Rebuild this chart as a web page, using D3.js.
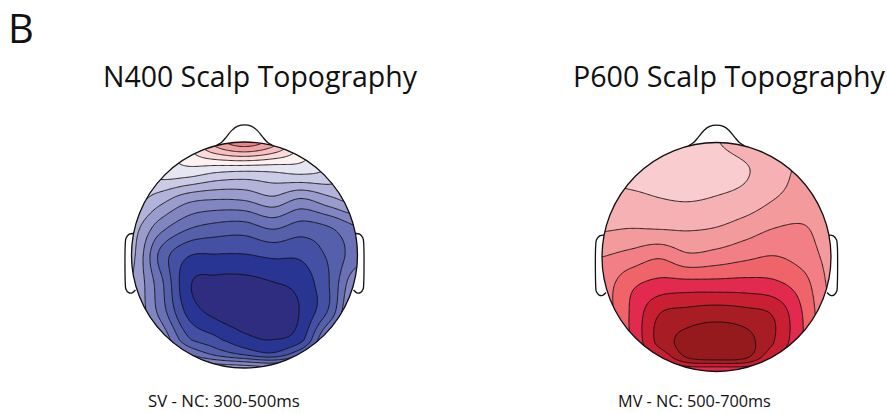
<!DOCTYPE html>
<html><head><meta charset="utf-8">
<script src="https://cdn.jsdelivr.net/npm/d3@7"></script>
<style>
body{margin:0;background:#fff}
svg{display:block}
text{font-family:"Open Sans","Noto Sans",sans-serif;fill:#111}
</style>
</head><body>
<svg id="chart" width="887" height="413"></svg>
<script>
// ---------------- data ----------------
const panelLabel = "B";
const titles = ["N400 Scalp Topography", "P600 Scalp Topography"];
const subtitles = ["SV - NC: 300-500ms", "MV - NC: 500-700ms"];

// normalized scalp grid positions (head radius = 1): columns left->right, rows front->back
const gridCols = [-1, -0.75, -0.5, -0.25, 0, 0.25, 0.5, 0.75, 1];
const gridRows = [-1, -0.75, -0.5, -0.25, 0, 0.25, 0.5, 0.75, 0.875, 1];

// N400 (SV - NC) amplitude field
const n400Values = [
  [-3.0, -1.5,  1.0,  3.5,  4.6,  3.5,  1.0, -1.5, -3.0],
  [-2.0, -0.6, -0.3, -0.7, -0.85,-0.8, -0.6, -1.2, -2.8],
  [-1.5, -2.5, -3.6, -3.9, -3.8, -3.2, -4.0, -3.2, -2.5],
  [-2.5, -4.5, -5.8, -6.3, -6.4, -5.8, -6.4, -6.0, -5.0],
  [-2.7, -6.2, -7.9, -8.05,-8.05,-7.8, -7.8, -6.8, -5.5],
  [-3.0, -5.6, -8.8, -9.25,-9.3, -9.05,-8.6, -7.0, -4.0],
  [-3.0, -5.3, -8.3, -9.3, -9.7, -9.8, -8.9, -6.8, -3.0],
  [-3.0, -4.0, -6.8, -7.8, -8.7, -9.0, -8.3, -4.5, -3.0],
  [-3.0, -3.5, -5.0, -6.3, -7.2, -7.8, -6.2, -3.8, -3.0],
  [-2.0, -2.5, -3.0, -3.3, -3.5, -3.8, -3.5, -3.0, -2.0]
];
const n400Thresholds = [-9, -8, -7, -6, -5, -4, -3, -2, -1, 0, 1, 2, 3, 4];
const n400Colors = ["#2e2d7f", "#283593", "#4450a3", "#5560ab", "#6a71b6", "#8186c1",
  "#9a9ccc", "#b3b3d9", "#cbcbe5", "#e6e5f2", "#fdf1f1", "#fadada", "#f6bfc0", "#f2a2a3", "#ee8385"];

// P600 (MV - NC) amplitude field
const p600Values = [
  [0.3, 0.3, 0.4,  0.6,  0.95, 1.4, 1.8,  2.0, 2.2],
  [0.6, 0.5, 0.5,  0.5,  0.6,  0.9, 1.6,  2.2, 2.5],
  [1.5, 1.3, 1.05, 0.95, 1.1,  1.4, 2.0,  2.4, 2.5],
  [1.9, 2.0, 1.95, 1.9,  2.05, 2.5, 3.0,  3.1, 2.5],
  [3.0, 3.4, 3.9,  3.25, 3.45, 3.8, 4.05, 3.6, 2.7],
  [3.5, 4.8, 5.4,  5.5,  5.5,  5.5, 5.3,  4.5, 2.8],
  [3.5, 5.1, 7.0,  7.4,  7.6,  7.4, 6.9,  5.0, 3.0],
  [3.5, 5.0, 7.3,  8.4,  8.7,  8.4, 7.0,  5.0, 3.0],
  [3.0, 4.5, 6.0,  8.1,  8.5,  8.2, 6.0,  4.5, 3.0],
  [3.0, 4.0, 4.5,  5.0,  5.0,  5.0, 4.5,  4.0, 3.0]
];
const p600Thresholds = [1, 2, 3, 4, 5, 6, 7, 8];
const p600Colors = ["#f9cdd0", "#f6b1b5", "#f39a9c", "#f17f85", "#ef6468",
  "#e2294e", "#c81f32", "#a81d23", "#951a1e"];

// head outline shapes (normalized head units)
const noseShape = [[-0.245,-0.972],[-0.2,-1.0],[-0.16,-1.045],[-0.11,-1.105],[-0.06,-1.14],
  [0,-1.152],[0.06,-1.14],[0.11,-1.105],[0.16,-1.045],[0.2,-1.0],[0.245,-0.972]];
const earShape = [[-0.975,-0.19],[-1.02,-0.185],[-1.048,-0.15],[-1.055,-0.1],[-1.055,0.25],
  [-1.05,0.3],[-1.025,0.333],[-0.995,0.335],[-0.965,0.31]];

// ---------------- drawing ----------------
const svg = d3.select("#chart");

const panels = [
  {title: titles[0], sub: subtitles[0], values: n400Values, thr: n400Thresholds, colors: n400Colors,
   cx: 244.5, cy: 255, r: 113, titleX: 103, titleW: 314, subX: 148, subW: 152},
  {title: titles[1], sub: subtitles[1], values: p600Values, thr: p600Thresholds, colors: p600Colors,
   cx: 716.5, cy: 257, r: 114.5, titleX: 573, titleW: 312, subX: 618, subW: 153}
];

function cr(p0, p1, p2, p3, t) {
  const t2 = t * t, t3 = t2 * t;
  return 0.5 * ((2 * p1) + (-p0 + p2) * t + (2 * p0 - 5 * p1 + 4 * p2 - p3) * t2 + (-p0 + 3 * p1 - 3 * p2 + p3) * t3);
}
function sampler(grid) {
  const nc = gridCols.length, nr = gridRows.length;
  const ix = d3.scaleLinear().domain(gridCols).range(d3.range(nc)).clamp(true);
  const iy = d3.scaleLinear().domain(gridRows).range(d3.range(nr)).clamp(true);
  const g = (i, j) => grid[Math.max(0, Math.min(nr - 1, j))][Math.max(0, Math.min(nc - 1, i))];
  return (u, v) => {
    const fx = ix(u), fy = iy(v);
    const i = Math.min(Math.floor(fx), nc - 2), j = Math.min(Math.floor(fy), nr - 2);
    const tx = fx - i, ty = fy - j;
    const rows = [];
    for (let k = -1; k <= 2; k++) {
      rows.push(cr(g(i - 1, j + k), g(i, j + k), g(i + 1, j + k), g(i + 2, j + k), tx));
    }
    return cr(rows[0], rows[1], rows[2], rows[3], ty);
  };
}

function fitText(sel, width) {
  const fs = parseFloat(sel.attr("font-size"));
  const w = sel.node().getComputedTextLength();
  sel.attr("font-size", (fs * width / w).toFixed(2));
}

svg.append("text").attr("x", 8).attr("y", 43).attr("font-size", 40).text(panelLabel);

const N = 211, EXT = 1.05;
panels.forEach((p, pi) => {
  const g = svg.append("g");
  const f = sampler(p.values);
  const uScale = d3.scaleLinear().domain([0, N - 1]).range([-EXT, EXT]);
  const vals = new Array(N * N);
  for (let j = 0; j < N; j++) for (let i = 0; i < N; i++) vals[j * N + i] = f(uScale(i), uScale(j));

  const sx = d3.scaleLinear().domain([0.5, N - 0.5]).range([p.cx - EXT * p.r, p.cx + EXT * p.r]);
  const sy = d3.scaleLinear().domain([0.5, N - 0.5]).range([p.cy - EXT * p.r, p.cy + EXT * p.r]);
  const hx = d3.scaleLinear().domain([-1, 1]).range([p.cx - p.r, p.cx + p.r]);
  const hy = d3.scaleLinear().domain([-1, 1]).range([p.cy - p.r, p.cy + p.r]);

  const outline = d3.line().x(d => hx(d[0])).y(d => hy(d[1])).curve(d3.curveCatmullRom.alpha(0.5));
  g.append("path").attr("d", outline(noseShape)).attr("fill", "#fff").attr("stroke", "#111").attr("stroke-width", 1.3);
  g.append("path").attr("d", outline(earShape)).attr("fill", "#fff").attr("stroke", "#111").attr("stroke-width", 1.3);
  g.append("path").attr("d", outline(earShape.map(d => [-d[0], d[1]]))).attr("fill", "#fff").attr("stroke", "#111").attr("stroke-width", 1.3);

  const clipId = "clip" + pi;
  svg.append("clipPath").attr("id", clipId).append("circle").attr("cx", p.cx).attr("cy", p.cy).attr("r", p.r);

  const cg = g.append("g").attr("clip-path", `url(#${clipId})`);
  cg.append("circle").attr("cx", p.cx).attr("cy", p.cy).attr("r", p.r).attr("fill", p.colors[0]);

  const contours = d3.contours().size([N, N]).thresholds(p.thr)(vals);
  const path = d3.geoPath(d3.geoTransform({point: function(x, y) { this.stream.point(sx(x), sy(y)); }}));
  cg.selectAll("path.band").data(contours).join("path").attr("class", "band")
    .attr("d", path)
    .attr("fill", (d, k) => p.colors[k + 1])
    .attr("stroke", "#111").attr("stroke-width", 0.9).attr("stroke-linejoin", "round");

  g.append("circle").attr("cx", p.cx).attr("cy", p.cy).attr("r", p.r)
    .attr("fill", "none").attr("stroke", "#111").attr("stroke-width", 1.3);

  const t = svg.append("text").attr("x", p.titleX).attr("y", 87).attr("font-size", 26).text(p.title);
  fitText(t, p.titleW);
  const s = svg.append("text").attr("x", p.subX).attr("y", 407).attr("font-size", 17).text(p.sub);
  fitText(s, p.subW);
});
</script>
</body></html>
